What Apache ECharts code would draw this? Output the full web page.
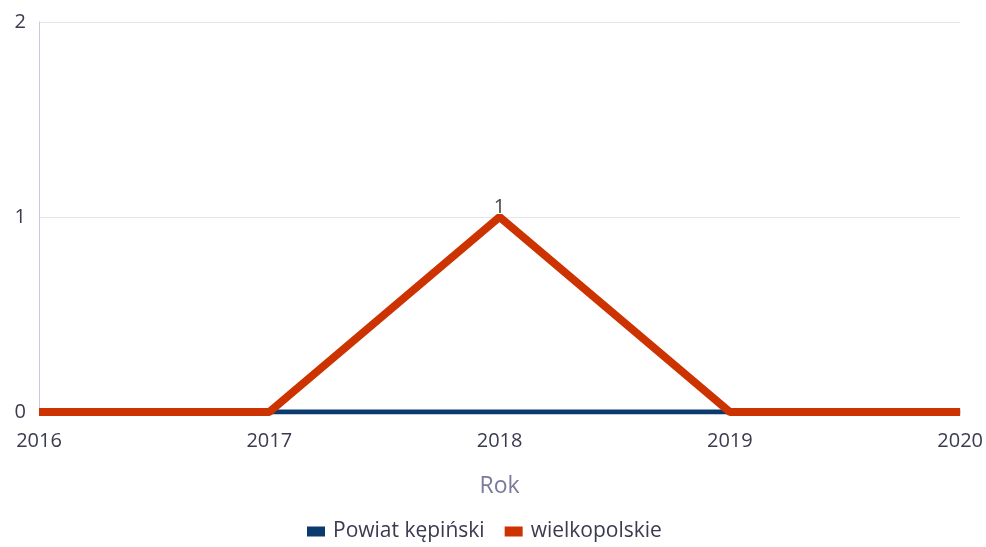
<!DOCTYPE html>
<html><head><meta charset="utf-8">
<script src="https://cdn.jsdelivr.net/npm/echarts@6/dist/echarts.min.js"></script>
<style>html,body{margin:0;padding:0;background:#fff}#c{width:986px;height:547px}</style>
</head><body><div id="c"></div>
<script>
const years = ['2016','2017','2018','2019','2020'];
const powiat = [0,0,0,0,0];
const wielkopolskie = [0,0,1,0,0];
const yTicks = [0,1,2];
const chart = echarts.init(document.getElementById('c'));
const txt = '#3a3a50';
chart.setOption({
  animation:false,
  textStyle:{fontFamily:'Open Sans, sans-serif'},
  grid:{left:39,right:25,top:22,bottom:135,containLabel:false},
  legend:{bottom:0,left:302,itemWidth:18,itemHeight:10,itemGap:20,icon:'rect',
    textStyle:{fontSize:21,color:txt,fontFamily:'Open Sans, sans-serif',padding:[0,0,0,3]},
    data:['Powiat kępiński','wielkopolskie']},
  xAxis:{type:'category',data:years,boundaryGap:false,
    name:'Rok',nameLocation:'middle',nameGap:63,
    nameTextStyle:{fontSize:23,color:'#7a7a9a'},
    axisLine:{show:false},axisTick:{show:false},
    axisLabel:{fontSize:20,color:txt,margin:19,showMinLabel:true,showMaxLabel:true}},
  yAxis:{type:'value',min:yTicks[0],max:yTicks[yTicks.length-1],interval:1,
    axisLine:{show:true,lineStyle:{color:'#c8c8dc',width:1}},
    axisTick:{show:false},
    splitLine:{lineStyle:{color:'#e6e6ea'}},
    axisLabel:{fontSize:20,color:txt,margin:13}},
  series:[
    {name:'Powiat kępiński',type:'line',data:powiat,symbol:'none',
      itemStyle:{color:'#0b3a6e'},lineStyle:{width:5,color:'#0b3a6e'}},
    {name:'wielkopolskie',type:'line',data:wielkopolskie,symbol:'circle',symbolSize:0,showSymbol:true,
      itemStyle:{color:'#cc3300'},lineStyle:{width:8,color:'#cc3300'},
      label:{show:true,position:'top',distance:0,fontSize:20,color:'#444',
        formatter:p=>p.value>0?String(p.value):''}}
  ]
});
</script></body></html>
